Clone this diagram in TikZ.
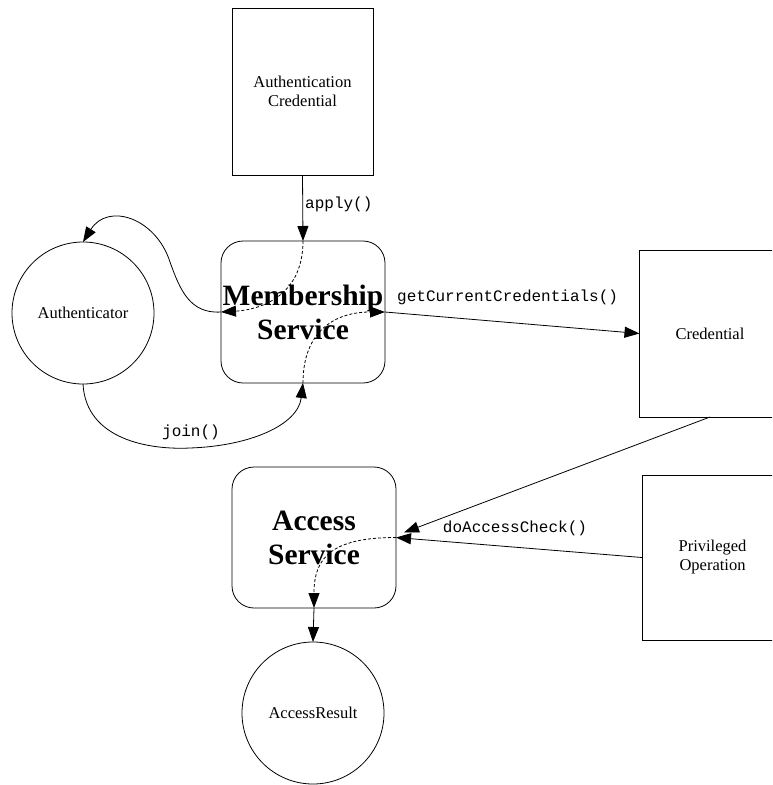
\documentclass[tikz,border=0pt]{standalone}
\usepackage{fontspec}
\setmainfont{Liberation Serif}
\setmonofont{Liberation Mono}
\usetikzlibrary{arrows.meta,calc}
\begin{document}
\begin{tikzpicture}[x=1pt,y=-1pt,
  box/.style={draw, line width=0.8pt, inner sep=0pt, outer sep=0pt, minimum width=141pt, minimum height=167pt, align=center, font=\fontsize{16.5}{19}\selectfont},
  svc/.style={draw, line width=0.8pt, rounded corners=22pt, inner sep=0pt, outer sep=0pt, minimum width=164pt, minimum height=142pt, align=center, font=\bfseries\fontsize{29.5}{34}\selectfont},
  ent/.style={draw, circle, line width=0.8pt, inner sep=0pt, outer sep=0pt, minimum size=142pt, font=\fontsize{16.5}{19}\selectfont},
  conn/.style={line width=0.8pt, -{Triangle[length=15pt,width=11pt]}},
  innerflow/.style={conn, dash pattern=on 3pt off 2pt},
  meth/.style={font=\ttfamily\fontsize{16}{19}\selectfont, inner sep=0pt}
]
\useasboundingbox (0,0) rectangle (772,785);
\clip (0,0) rectangle (772,785);

\node[box] (ac) at (302.5,91.5) {Authentication\\Credential};
\node[svc] (ms) at (303,312) {Membership\\Service};
\node[ent] (auth) at (83,313) {Authenticator};
\node[box] (cred) at (710,333.5) {Credential};
\node[svc, minimum height=141pt] (as) at (314,537.5) {Access\\Service};
\node[box, minimum height=165pt] (priv) at (712.5,557.5) {Privileged\\Operation};
\node[ent] (ar) at (313,713) {AccessResult};

% apply()
\draw[conn] (ac.south) -- (ms.north);
\node[meth, anchor=west] (lapply) at (305,204) {apply()};
\draw[innerflow] (ms.north) .. controls +(0,58) and +(35,-2) .. (ms.west);
\draw[conn] (ms.west) .. controls (190,314) and (180,290) .. (170,262)
  .. controls (156,218) and (108,202) .. (auth.north);

% join()
\draw[conn] (auth.south) .. controls (86,440) and (150,450) .. (190,448)
  .. controls (250,446) and (298,425) .. (ms.south);
\node[meth] (ljoin) at (191,432) {join()};
\draw[innerflow] (ms.south) .. controls +(0,-52) and +(-50,0) .. (ms.east);

% getCurrentCredentials()
\draw[conn] (ms.east) -- (cred.west);
\node[meth, anchor=west] (lget) at (397,297) {getCurrentCredentials()};

% doAccessCheck()
\draw[conn] (cred.south) -- ($(as.east)+(8,-5)$);
\draw[conn] (priv.west) -- (as.east);
\node[meth] (ldo) at (515,528) {doAccessCheck()};
\draw[innerflow] (as.east) .. controls +(-65,0) and +(0,-50) .. (as.south);
\draw[conn] (as.south) -- (ar.north);
\end{tikzpicture}
\end{document}
